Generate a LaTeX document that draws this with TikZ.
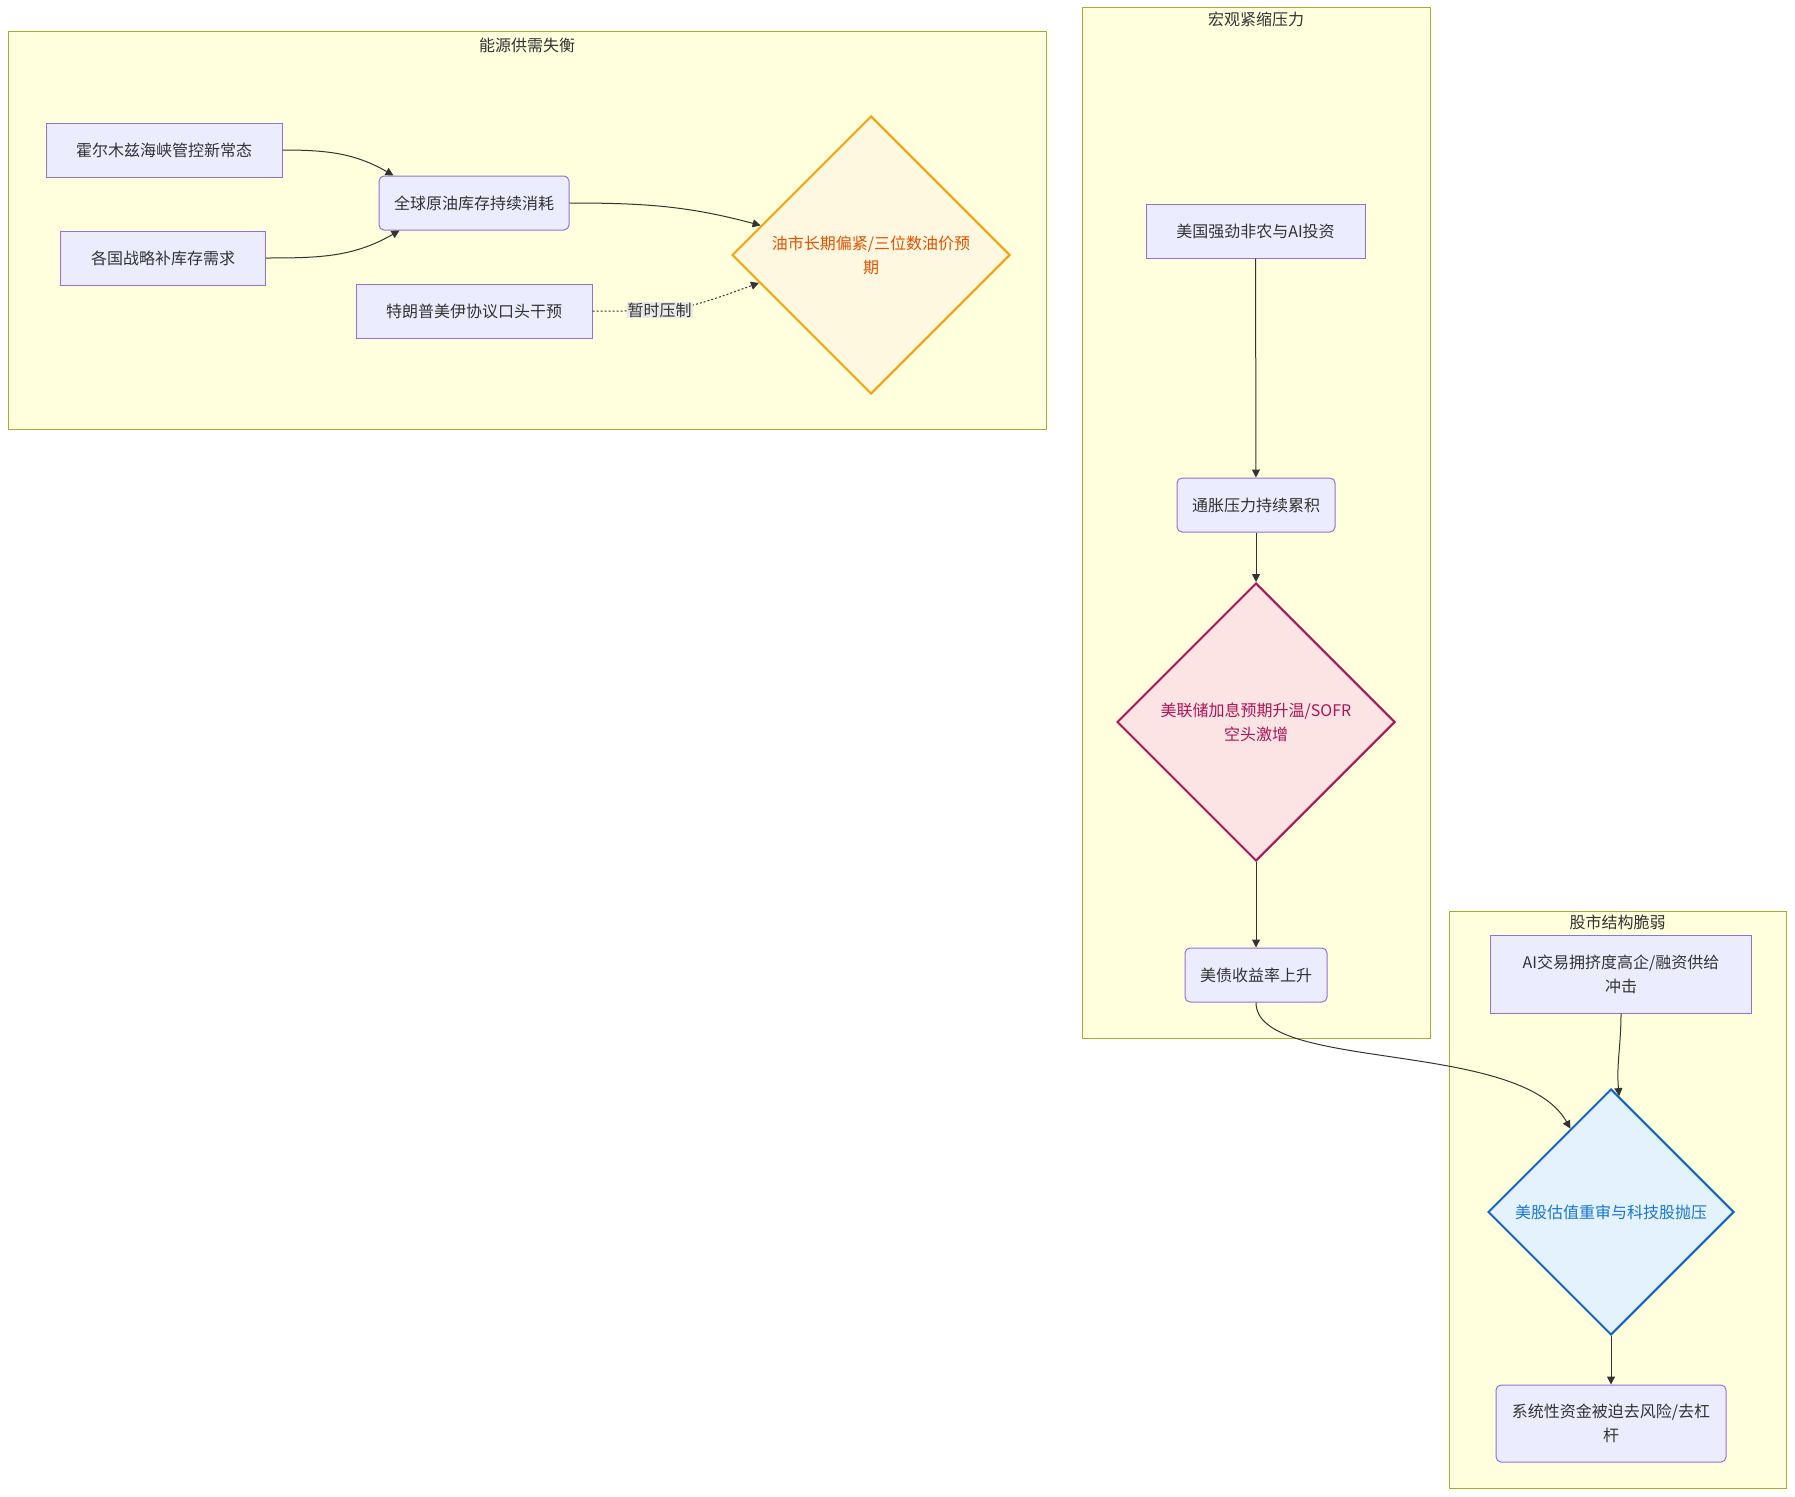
\documentclass[tikz,border=0pt]{standalone}
\usepackage{fontspec}
\setmainfont{Noto Sans CJK SC}
\usetikzlibrary{arrows.meta,shapes.geometric}
\definecolor{clusterfill}{HTML}{FFFFDE}
\definecolor{clusterline}{HTML}{AAAA33}
\definecolor{nodefill}{HTML}{ECECFF}
\definecolor{nodeline}{HTML}{9370DB}
\definecolor{textgray}{HTML}{333333}
\definecolor{labelfill}{HTML}{E8E8E8}
\definecolor{oilfill}{HTML}{FFF8E1}
\definecolor{oilline}{HTML}{F0A30A}
\definecolor{oiltext}{HTML}{E65100}
\definecolor{fedfill}{HTML}{FCE4E4}
\definecolor{fedline}{HTML}{AD1457}
\definecolor{stockfill}{HTML}{E3F2FD}
\definecolor{stockline}{HTML}{1565C0}
\definecolor{stocktext}{HTML}{1976D2}
\tikzset{
    every node/.style={align=center,font=\fontsize{16pt}{24pt}\selectfont,text=textgray,},
    box/.style={draw=nodeline,fill=nodefill,rectangle,line width=1pt,minimum height=54pt,},
    roundbox/.style={box,rounded corners=5pt,},
    decision/.style={diamond,aspect=1,line width=2pt,minimum width=#1,minimum height=#1,inner sep=0pt,},
    cluster/.style={draw=clusterline,fill=clusterfill,line width=1pt,},
    link/.style={draw=textgray,line width=1pt,-{Triangle[length=8pt,width=8pt]},},
    edgelabel/.style={fill=labelfill,fill opacity=0.9,text opacity=1,inner sep=1pt,},
}

\begin{document}
\begin{tikzpicture}[x=1pt,y=-1pt]
        \useasboundingbox (0,0) rectangle (1795,1496);

        \node[cluster,minimum width=1038pt,minimum height=397pt] (energy) at (527,230.5) {};
        \node (energy_title) at (527,45) {能源供需失衡};
        \node[cluster,minimum width=348pt,minimum height=1030pt] (macro) at (1256,523) {};
        \node (macro_title) at (1256,19) {宏观紧缩压力};
        \node[cluster,minimum width=337pt,minimum height=577pt] (stocks) at (1617.5,1199.5) {};
        \node (stocks_title) at (1617.5,922) {股市结构脆弱};

        \node[box,minimum width=236pt] (hormuz) at (164,150) {霍尔木兹海峡管控新常态};
        \node[box,minimum width=205pt] (restock) at (163,258) {各国战略补库存需求};
        \node[roundbox,minimum width=190pt] (inventory) at (474,203) {全球原油库存持续消耗};
        \node[box,minimum width=236pt] (trump) at (474,311) {特朗普美伊协议口头干预};
        \node[decision=278pt,draw=oilline,fill=oilfill,text=oiltext] (oil) at (871,255) {油市长期偏紧/三位数油价预\\期};

        \node[box,minimum width=219pt] (payrolls) at (1255.5,231) {美国强劲非农与AI投资};
        \node[roundbox,minimum width=158pt] (inflation) at (1256,505) {通胀压力持续累积};
        \node[decision=278pt,draw=fedline,fill=fedfill,text=fedline] (fed) at (1256,722) {美联储加息预期升温/SOFR\\空头激增};
        \node[roundbox,minimum width=142pt] (yields) at (1256,975) {美债收益率上升};

        \node[box,minimum width=261pt,minimum height=78pt] (crowding) at (1621,974) {AI交易拥挤度高企/融资供给\\冲击};
        \node[decision=246pt,draw=stockline,fill=stockfill,text=stocktext] (valuation) at (1611,1212) {美股估值重审与科技股抛压};
        \node[roundbox,minimum width=230pt,minimum height=77pt] (deleverage) at (1611,1423.5) {系统性资金被迫去风险/去杠\\杆};

        \draw[link] (hormuz.east) to[out=0,in=150] ([xshift=15pt]inventory.north west);
        \draw[link] (restock.east) to[out=0,in=210] ([xshift=21pt]inventory.south west);
        \draw[link] (inventory.east) to[out=0,in=165] (oil.165.5);
        \draw[link,dash pattern=on 2pt off 2pt] (trump.east) to[out=0,in=200,looseness=1.3] node[pos=0.36,edgelabel] (suppress) {暂时压制} (oil.194);

        \draw[link] (payrolls) to (inflation);
        \draw[link] (inflation) to (fed);
        \draw[link] (fed) to (yields);

        \draw[link] (yields.south) .. controls +(0,70) and +(-50,-90) .. (valuation.116);
        \draw[link] (crowding.south) to[out=-90,in=95] (valuation.86.5);
        \draw[link] (valuation) to (deleverage);
    \end{tikzpicture}
\end{document}
